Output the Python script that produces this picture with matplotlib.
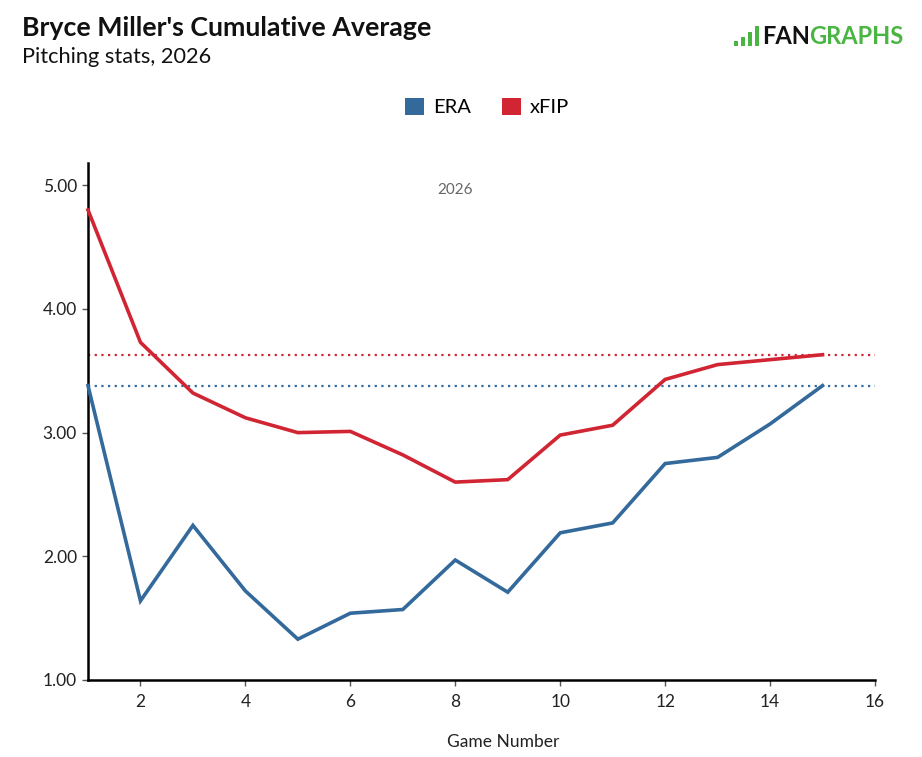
import matplotlib
matplotlib.use("Agg")
import matplotlib.pyplot as plt
from matplotlib.patches import Patch, Rectangle

games = [1, 2, 3, 4, 5, 6, 7, 8, 9, 10, 11, 12, 13, 14, 15]
era = [3.38, 1.64, 2.25, 1.72, 1.33, 1.54, 1.57, 1.97, 1.71, 2.19, 2.27, 2.75, 2.80, 3.07, 3.38]
xfip = [4.80, 3.73, 3.32, 3.12, 3.00, 3.01, 2.82, 2.60, 2.62, 2.98, 3.06, 3.43, 3.55, 3.59, 3.63]
era_season = 3.38
xfip_season = 3.63
yticks = [1.0, 2.0, 3.0, 4.0, 5.0]
xticks = [2, 4, 6, 8, 10, 12, 14, 16]

BLUE = "#336a9b"
RED = "#d12533"
plt.rcParams['font.family'] = ['Lato', 'DejaVu Sans']

fig = plt.figure(figsize=(9.22, 7.57), dpi=100)
ax = fig.add_axes([88/922, 1-680/757, (875-88)/922, (680-163)/757])

ax.plot(games, era, color=BLUE, lw=2.6, solid_joinstyle='miter', clip_on=False, zorder=3)
ax.plot(games, xfip, color=RED, lw=2.6, solid_joinstyle='miter', clip_on=False, zorder=3)
ax.plot([1, 16], [era_season, era_season], color=BLUE, lw=1.6, ls=(0, (1, 2)), zorder=2)
ax.plot([1, 16], [xfip_season, xfip_season], color=RED, lw=1.6, ls=(0, (1, 2)), zorder=2)

ax.set_xlim(1, 16)
ax.set_ylim(1.0, 5.18)
ax.set_yticks(yticks)
ax.set_yticklabels([f"{v:.2f}" for v in yticks])
ax.set_xticks(xticks)
ax.set_xticklabels([str(v) for v in xticks])
for s in ['top', 'right']:
    ax.spines[s].set_visible(False)
for s in ['left', 'bottom']:
    ax.spines[s].set_linewidth(1.8)
    ax.spines[s].set_color('black')
ax.tick_params(axis='both', labelsize=12.5, colors='#222222', length=4, width=1, direction='out')
ax.tick_params(axis='x', pad=6, color='#555555')
ax.tick_params(axis='y', pad=4, color='#555555')
ax.set_xlabel("Game Number", fontsize=12.5, color='#222222')
ax.xaxis.set_label_coords((503-88)/787, -(742-680)/517)
ax.xaxis.label.set_va('center')

ax.text(8.0, 4.96, "2026", ha='center', va='center', fontsize=11, color='#666666')

fig.text(22/922, 1-28/757, "Bryce Miller's Cumulative Average", fontsize=19.3, fontweight='bold',
         ha='left', va='center', color='#111111')
fig.text(22/922, 1-57/757, "Pitching stats, 2026", fontsize=15.7, ha='left', va='center', color='#111111')

handles = [Patch(facecolor=BLUE, edgecolor='none', label='ERA'),
           Patch(facecolor=RED, edgecolor='none', label='xFIP')]
fig.legend(handles=handles, loc='center', bbox_to_anchor=(487/922, 1-107/757), ncol=2, frameon=False,
           fontsize=14.5, handlelength=0.95, handleheight=0.95, columnspacing=1.55, handletextpad=0.45)

# logo
fig.text(762/922, 1-37/757, "FAN", fontsize=17, fontweight='bold', color='#111111', ha='left', va='center')
fig.text(809/922, 1-37/757, "GRAPHS", fontsize=17, fontweight='bold', color='#4bb543', ha='left', va='center')
for (x0, h) in [(734, 5), (741, 9), (748, 14), (755, 20)]:
    fig.patches.append(Rectangle((x0/922, 1-46/757), 4/922, h/757, transform=fig.transFigure,
                                 facecolor='#4bb543', edgecolor='none'))

fig.savefig("out.png", dpi=100)
